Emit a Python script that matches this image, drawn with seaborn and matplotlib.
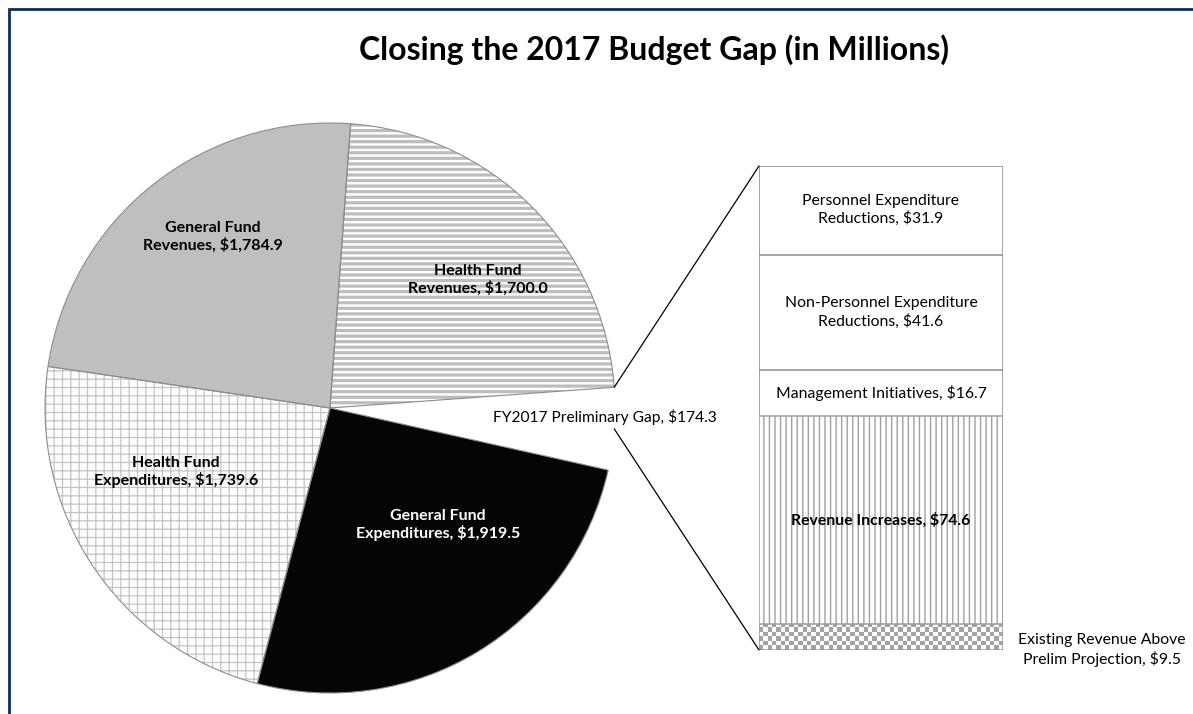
import numpy as np
import matplotlib
matplotlib.use("Agg")
import matplotlib.pyplot as plt
import seaborn as sns
from matplotlib.colors import ListedColormap
from matplotlib.patches import ConnectionPatch, Rectangle

# ---- data -------------------------------------------------------------
pie_names = ["Health Fund\nRevenues", "General Fund\nRevenues",
             "Health Fund\nExpenditures", "General Fund\nExpenditures",
             "FY2017 Preliminary Gap"]
pie_values = [1700.0, 1784.9, 1739.6, 1919.5, 174.3]

# stacked bar, listed bottom to top
bar_names = ["Existing Revenue Above\nPrelim Projection", "Revenue Increases",
             "Management Initiatives", "Non-Personnel Expenditure\nReductions",
             "Personnel Expenditure\nReductions"]
bar_values = [9.5, 74.6, 16.7, 41.6, 31.9]

title = "Closing the 2017 Budget Gap (in Millions)"

# ---- style ------------------------------------------------------------
sns.set_theme(style="white")
plt.rcParams["font.family"] = ["Lato", "DejaVu Sans"]
plt.rcParams["text.color"] = "black"
plt.rcParams["hatch.linewidth"] = 1.0

W, H = 1193, 714
fig = plt.figure(figsize=(W / 100, H / 100), dpi=100)
fig.patch.set_facecolor("white")


def fmt(name, v):
    return f"{name}, ${v:,.1f}"


def hatch_width(artist, lw):
    """Give one artist its own hatch line width."""
    if hasattr(artist, "set_hatch_linewidth"):
        artist.set_hatch_linewidth(lw)
    orig = artist.draw

    def draw(renderer):
        with plt.rc_context({"hatch.linewidth": lw}):
            orig(renderer)

    artist.draw = draw


# ---- pie ----------------------------------------------------------------
ax_pie = fig.add_axes([45 / W, (H - 693) / H, 570 / W, 570 / H])
other = float(np.sum(bar_values))
slice_vals = [other] + pie_values
fills = ["white", "white", "#BFBFBF", "white", "#050505", "white"]
hatch_cols = ["white", "#BDBDBD", "#BFBFBF", "#C4C4C4", "#050505", "white"]
hatches = [None, "---", None, "++", None, None]
hatch_lw = [1.0, 2.3, 1.0, 0.9, 1.0, 1.0]
start = -4.2

wedges, _ = ax_pie.pie(slice_vals, startangle=start, counterclock=True,
                       radius=1.0, wedgeprops=dict(linewidth=0))
for w, fc, hc, h, hl in zip(wedges, fills, hatch_cols, hatches, hatch_lw):
    w.set_facecolor(fc)
    w.set_edgecolor(hc)
    w.set_linewidth(0)
    if h:
        w.set_hatch(h)
        hatch_width(w, hl)
    w.set_clip_on(False)

outlines, _ = ax_pie.pie(slice_vals, startangle=start, counterclock=True,
                         radius=1.0,
                         wedgeprops=dict(fill=False, linewidth=0.8,
                                         edgecolor="#8C8C8C"))
for i, w in enumerate(outlines):
    w.set_clip_on(False)
    if i in (0, 5):
        w.set_edgecolor("none")

ax_pie.set_xlim(-1, 1)
ax_pie.set_ylim(-1, 1)
ax_pie.set_aspect("equal")
ax_pie.axis("off")

pie_label_pos = [(0.52, 0.45), (-0.41, 0.60), (-0.54, -0.225), (0.38, -0.41)]
pie_label_col = ["black", "black", "black", "white"]
for name, v, pos, c in zip(pie_names[:4], pie_values[:4], pie_label_pos,
                           pie_label_col):
    ax_pie.text(*pos, fmt(name, v), ha="center", va="center", fontsize=11.5,
                fontweight="bold", color=c, linespacing=1.2)
ax_pie.text((605 - 330) / 285, (408 - 417) / 285,
            fmt(pie_names[4], pie_values[4]), ha="center", va="center",
            fontsize=11.2, color="black", clip_on=False)

# ---- stacked bar ------------------------------------------------------
ax_bar = fig.add_axes([759 / W, (H - 650) / H, 244 / W, 484 / H])
tops = np.cumsum(bar_values)
seg_edge = ["#9A9A9A", "#A0A0A0", "#8C8C8C", "#8C8C8C", "#8C8C8C"]
seg_hatch = [None, "|||", None, None, None]

for i in reversed(range(len(bar_values))):
    sns.barplot(x=[0], y=[tops[i]], ax=ax_bar, width=1.0, color="white",
                saturation=1, errorbar=None, edgecolor=seg_edge[i],
                linewidth=1.1)
    p = ax_bar.patches[-1]
    if seg_hatch[i]:
        p.set_hatch(seg_hatch[i])
        hatch_width(p, 1.0)

# checkered texture for the bottom segment
base = ax_bar.patches[-1]
chk = np.add.outer(np.arange(6), np.arange(56)) % 2
img = ax_bar.imshow(chk, cmap=ListedColormap(["white", "#A3A3A3"]),
                    extent=(-0.5, 0.5, 0, tops[0]), aspect="auto",
                    interpolation="nearest", zorder=2)
img.set_clip_path(base)
base.set_facecolor("none")
base.set_zorder(3)

ax_bar.set_xlim(-0.5, 0.5)
ax_bar.set_ylim(0, tops[-1])
ax_bar.axis("off")

centers = tops - np.array(bar_values) / 2
for i in range(1, len(bar_values)):
    ax_bar.text(0, centers[i], fmt(bar_names[i], bar_values[i]), ha="center",
                va="center", fontsize=11.3, linespacing=1.25,
                fontweight="bold" if i == 1 else "normal", zorder=5)
ax_bar.annotate(fmt(bar_names[0], bar_values[0]), xy=(1.406, 0),
                xycoords=("axes fraction", "data"), ha="center", va="center",
                fontsize=11.3, linespacing=1.25, annotation_clip=False)

# ---- connector lines --------------------------------------------------
w0 = wedges[0]
for ang, yb in [(w0.theta2, 1), (w0.theta1, 0)]:
    xy = (np.cos(np.radians(ang)), np.sin(np.radians(ang)))
    con = ConnectionPatch(xyA=xy, coordsA=ax_pie.transData, xyB=(0, yb),
                          coordsB=ax_bar.transAxes, color="black", lw=0.9)
    fig.add_artist(con)

# ---- title and frame -------------------------------------------------
fig.text(654 / W, 1 - 50 / H, title, ha="center", va="center", fontsize=23,
         fontweight="bold")
fig.add_artist(Rectangle((9 / W, -0.5), 2.0, 1.5 - 9 / H,
                         transform=fig.transFigure, fill=False,
                         edgecolor="#0B2A6B", linewidth=2.0))

fig.savefig("out.png", dpi=100)
